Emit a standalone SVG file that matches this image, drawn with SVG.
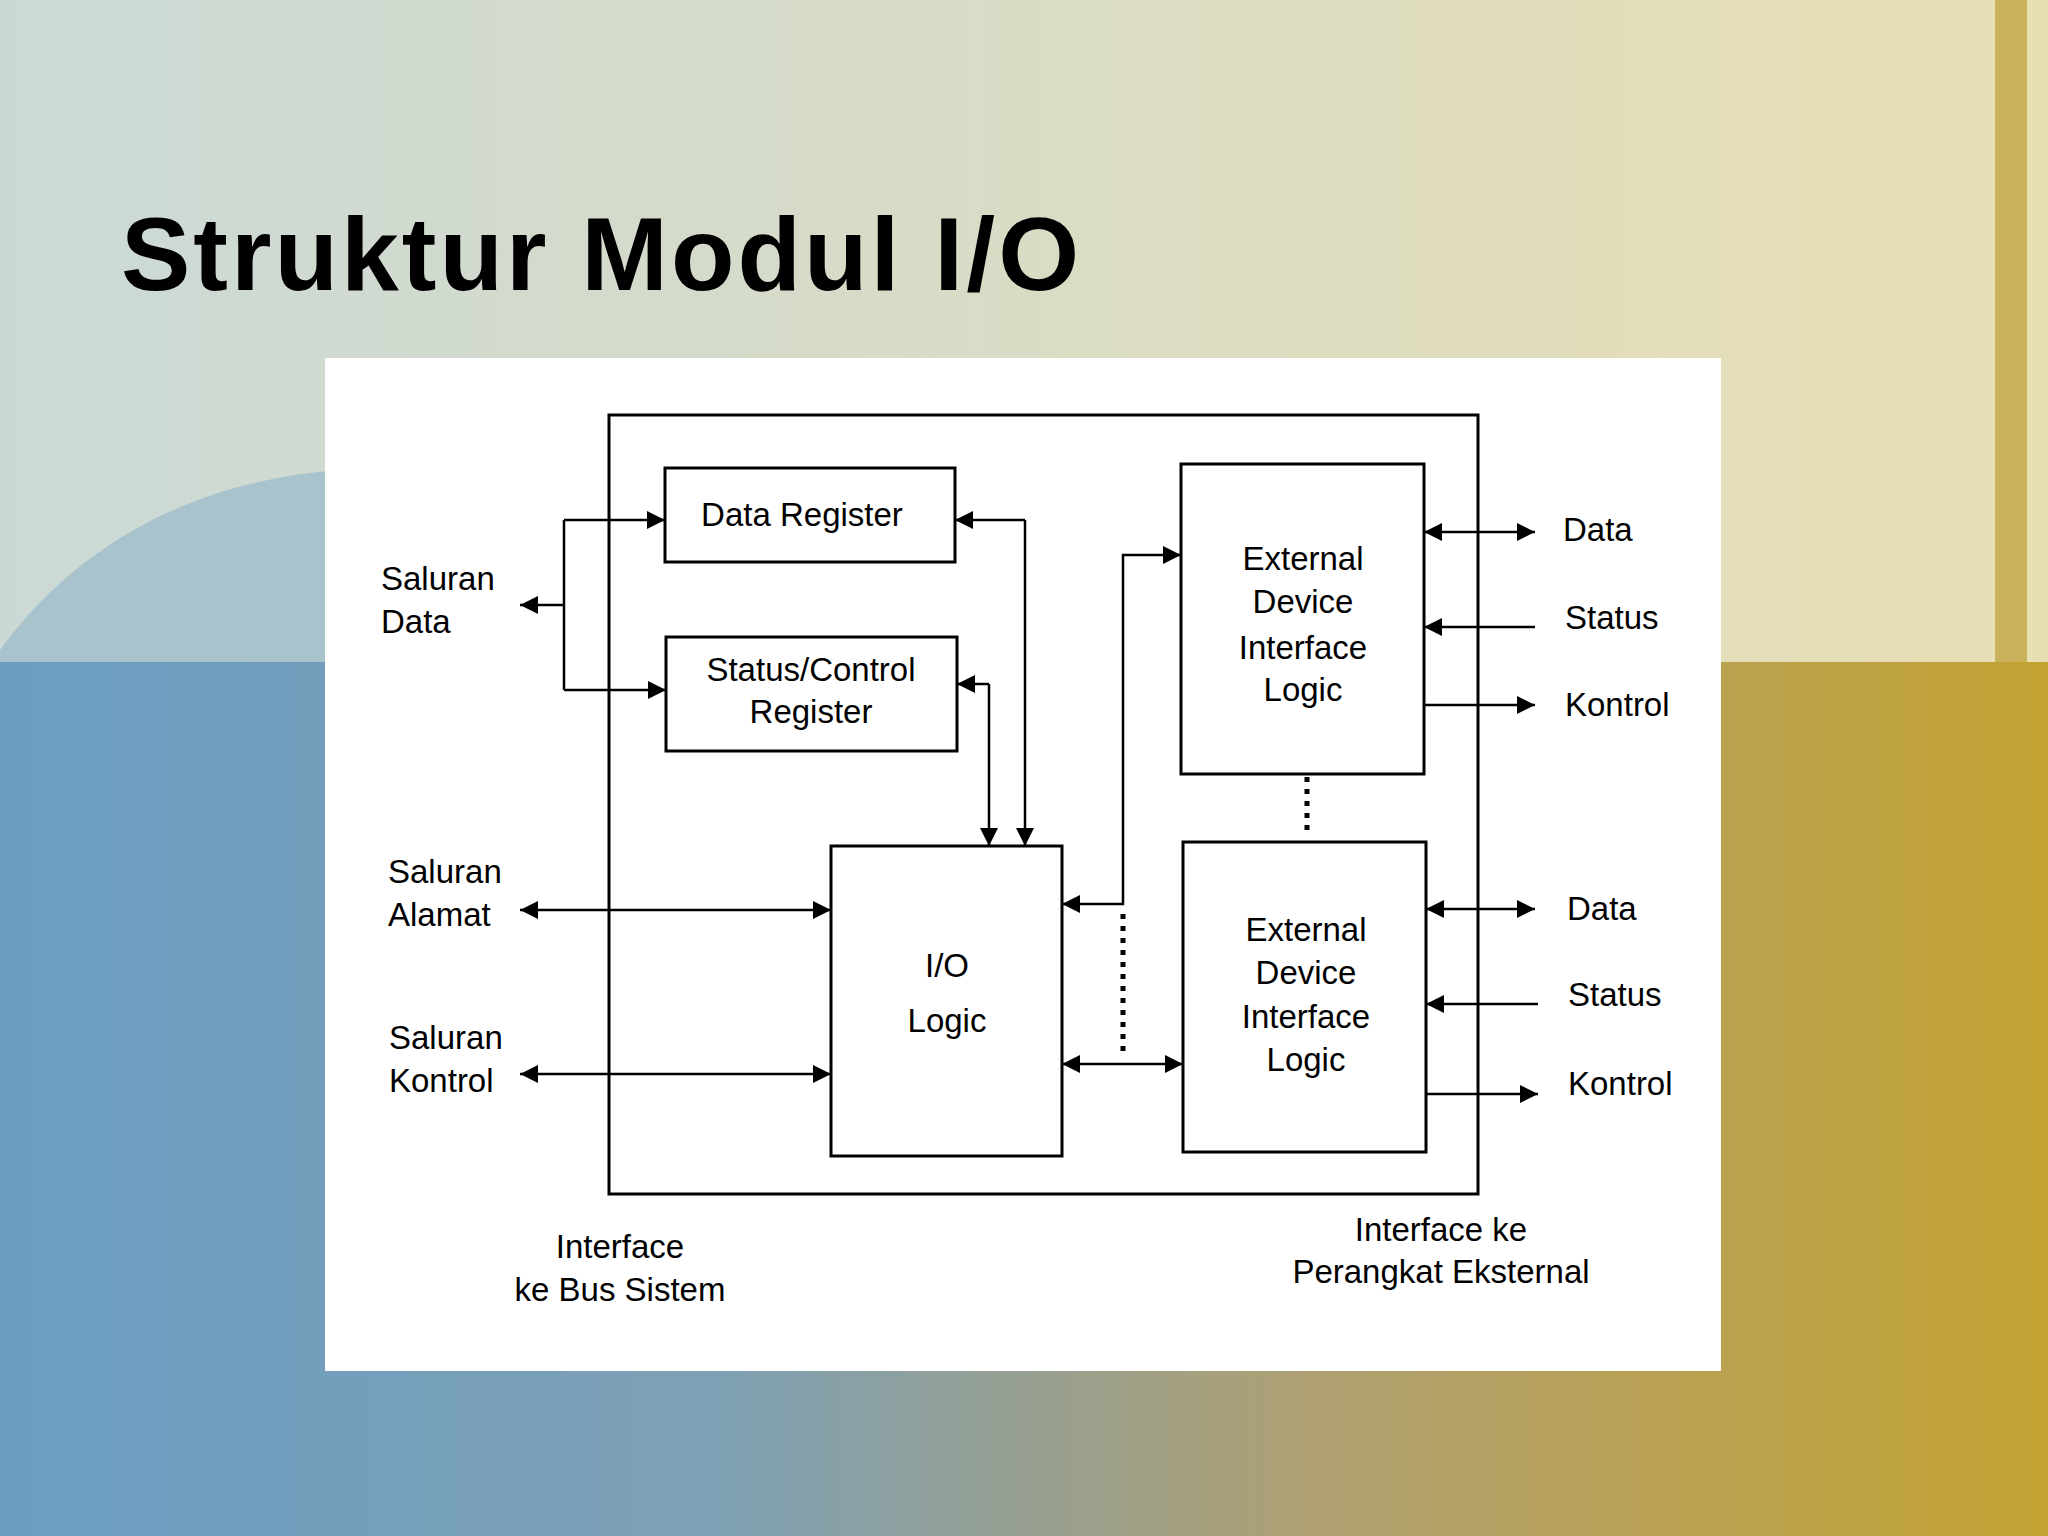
<svg xmlns="http://www.w3.org/2000/svg" width="2048" height="1536" viewBox="0 0 2048 1536">
<defs>
<linearGradient id="top" x1="0" y1="0" x2="1" y2="0"><stop offset="0" stop-color="#cbd9d6"/><stop offset="1" stop-color="#e8dfb4"/></linearGradient>
<linearGradient id="bot" x1="0" y1="0" x2="1" y2="0"><stop offset="0" stop-color="#6a9ec3"/><stop offset="0.35" stop-color="#7ea0b4"/><stop offset="0.65" stop-color="#b0a070"/><stop offset="1" stop-color="#c2a232"/></linearGradient>
<marker id="ah" viewBox="0 0 10 10" refX="10" refY="5" markerWidth="20" markerHeight="18" markerUnits="userSpaceOnUse" orient="auto-start-reverse"><path d="M0,0 L10,5 L0,10 Z" fill="#000"/></marker>
<style>
.b{fill:#fff;stroke:#000;stroke-width:3}
.c{fill:none;stroke:#000;stroke-width:2.5}
.a{marker-end:url(#ah)}
.s{marker-start:url(#ah)}
.d{fill:none;stroke:#000;stroke-width:5;stroke-dasharray:5,7}
.t{font-family:"Liberation Sans",Arial,sans-serif;font-size:33px;fill:#000}
.m{text-anchor:middle}
</style>
</defs>
<rect width="2048" height="1536" fill="url(#bot)"/>
<rect width="2048" height="662" fill="url(#top)"/>
<path d="M0,662 L0,650 C80,540 200,480 340,470 L340,662 Z" fill="#a9c3cc"/>
<rect x="1995" y="0" width="32" height="662" fill="#c9b25a"/>
<text x="121" y="290" font-family="Liberation Sans,Arial,sans-serif" font-weight="bold" font-size="104" letter-spacing="3" fill="#000">Struktur Modul I/O</text>
<rect x="325" y="358" width="1396" height="1013" fill="#fff"/>
<g id="outer"><rect x="609" y="415" width="869" height="779" fill="none" stroke="#000" stroke-width="3"/></g>
<g id="dataReg"><rect class="b" x="665" y="468" width="290" height="94"/><text class="t m" x="802" y="526">Data Register</text></g>
<g id="statReg"><rect class="b" x="666" y="637" width="291" height="114"/><text class="t m" x="811" y="681">Status/Control</text><text class="t m" x="811" y="723">Register</text></g>
<g id="ioLogic"><rect class="b" x="831" y="846" width="231" height="310"/><text class="t m" x="947" y="977" font-size="44">I/O</text><text class="t m" x="947" y="1032" font-size="44">Logic</text></g>
<g id="edil1"><rect class="b" x="1181" y="464" width="243" height="310"/><text class="t m" x="1303" y="570">External</text><text class="t m" x="1303" y="613">Device</text><text class="t m" x="1303" y="659">Interface</text><text class="t m" x="1303" y="701">Logic</text></g>
<g id="edil2"><rect class="b" x="1183" y="842" width="243" height="310"/><text class="t m" x="1306" y="941">External</text><text class="t m" x="1306" y="984">Device</text><text class="t m" x="1306" y="1028">Interface</text><text class="t m" x="1306" y="1071">Logic</text></g>
<g id="labels">
<text class="t" x="381" y="590">Saluran</text><text class="t" x="381" y="633">Data</text>
<text class="t" x="388" y="883">Saluran</text><text class="t" x="388" y="926">Alamat</text>
<text class="t" x="389" y="1049">Saluran</text><text class="t" x="389" y="1092">Kontrol</text>
<text class="t" x="1563" y="541">Data</text><text class="t" x="1565" y="629">Status</text><text class="t" x="1565" y="716">Kontrol</text>
<text class="t" x="1567" y="920">Data</text><text class="t" x="1568" y="1006">Status</text><text class="t" x="1568" y="1095">Kontrol</text>
<text class="t m" x="620" y="1258">Interface</text><text class="t m" x="620" y="1301">ke Bus Sistem</text>
<text class="t m" x="1441" y="1241">Interface ke</text><text class="t m" x="1441" y="1283">Perangkat Eksternal</text>
</g>
<g id="connectors">
<path class="c a" d="M564,520 L665,520"/>
<path class="c a" d="M564,690 L666,690"/>
<path class="c" d="M564,520 L564,690"/>
<path class="c a" d="M564,605 L520,605"/>
<path class="c a" d="M1025,520 L955,520"/>
<path class="c a" d="M1025,520 L1025,846"/>
<path class="c a" d="M989,684 L957,684"/>
<path class="c a" d="M989,684 L989,846"/>
<path class="c a s" d="M520,910 L831,910"/>
<path class="c a s" d="M520,1074 L831,1074"/>
<path class="c s a" d="M1062,904 L1123,904 L1123,555 L1181,555"/>
<path class="c s a" d="M1062,1064 L1183,1064"/>
<path class="d" d="M1123,914 L1123,1058"/>
<path class="d" d="M1307,777 L1307,836"/>
<path class="c s a" d="M1424,532 L1535,532"/>
<path class="c a" d="M1535,627 L1424,627"/>
<path class="c a" d="M1424,705 L1535,705"/>
<path class="c s a" d="M1426,909 L1535,909"/>
<path class="c a" d="M1538,1004 L1426,1004"/>
<path class="c a" d="M1426,1094 L1538,1094"/>
</g>
</svg>
